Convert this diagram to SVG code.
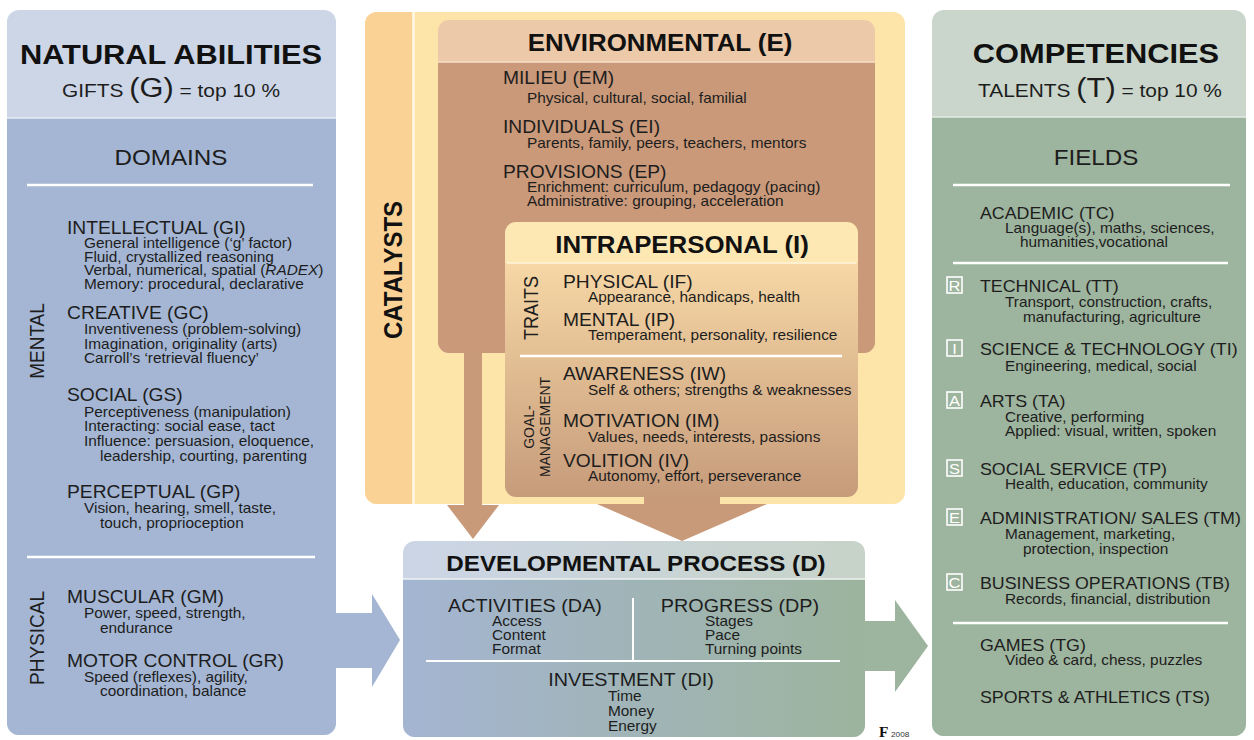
<svg xmlns="http://www.w3.org/2000/svg" width="1254" height="740" viewBox="0 0 1254 740">
<defs>
<linearGradient id="gIntra" x1="0" y1="0" x2="0" y2="1">
<stop offset="0" stop-color="#fde8b4"/><stop offset="0.148" stop-color="#fde8b4"/><stop offset="0.152" stop-color="#f6d7a5"/><stop offset="1" stop-color="#c69b7b"/>
</linearGradient>
<linearGradient id="gDevHead" x1="0" y1="0" x2="1" y2="0"><stop offset="0" stop-color="#ccd5e6"/><stop offset="1" stop-color="#c7d3c8"/></linearGradient>
<linearGradient id="gDevBody" x1="0" y1="0" x2="1" y2="0"><stop offset="0" stop-color="#a4b5d2"/><stop offset="1" stop-color="#9cb49d"/></linearGradient>
<style>
text{font-family:"Liberation Sans",Arial,Helvetica,sans-serif;fill:#1d1d1d;transform-box:fill-box;transform-origin:0 0;transform:scaleX(1.1)}
.m{text-anchor:middle;transform-origin:50% 0}
.v{text-anchor:middle;transform-origin:50% 50%;transform:scaleY(1.1)}
.t1{font-size:28px;font-weight:bold;fill:#111}
.t2{font-size:23.5px;font-weight:bold;fill:#111}
.t3{font-size:22px;font-weight:bold;fill:#111}
.sub{font-size:19px}
.big{font-size:28px}
.dom{font-size:22px}
.h{font-size:17.5px}
.hr{font-size:16.2px}
.hd{font-size:18px}
.s{font-size:14px}
.lab{font-size:19px}
.cat{font-size:24px;font-weight:bold;fill:#111}
.tr{font-size:18px}
.gm{font-size:14px}
.bx{fill:none;stroke:#fff;stroke-width:1.6}
.bl{font-size:15px;fill:#fff}
.wl{stroke:#fff;stroke-width:2.5}
.dl{stroke-width:1.5}
.logo{font-family:"Liberation Serif",serif;font-size:14px;font-weight:bold;fill:#111}
.yr{font-size:7.5px;fill:#333}
</style>
</defs>
<rect width="1254" height="740" fill="#fff"/>

<g id="natural-abilities">
<rect x="7" y="10" width="329" height="725" rx="12" fill="#ccd6e6"/>
<rect x="7" y="118" width="329" height="617" rx="12" fill="#a4b6d3"/>
<rect x="7" y="118" width="329" height="20" fill="#a4b6d3"/>
<line x1="7" y1="118" x2="336" y2="118" stroke="#e6ecf4" class="dl"/>
<text class="t1 m" x="171" y="64">NATURAL ABILITIES</text>
<text class="sub m" x="171" y="97">GIFTS <tspan class="big">(G)</tspan> = top 10 %</text>
<text class="dom m" x="171" y="165">DOMAINS</text>
<line class="wl" x1="27" y1="185" x2="313" y2="185"/>
<text class="h" x="67" y="234">INTELLECTUAL (GI)</text>
<text class="s" x="84" y="248">General intelligence (‘g’ factor)</text>
<text class="s" x="84" y="262">Fluid, crystallized reasoning</text>
<text class="s" x="84" y="275">Verbal, numerical, spatial (<tspan font-style="italic">RADEX</tspan>)</text>
<text class="s" x="84" y="289">Memory: procedural, declarative</text>
<text class="h" x="67" y="319">CREATIVE (GC)</text>
<text class="s" x="84" y="334">Inventiveness (problem-solving)</text>
<text class="s" x="84" y="349">Imagination, originality (arts)</text>
<text class="s" x="84" y="363">Carroll’s ‘retrieval fluency’</text>
<text class="h" x="67" y="401">SOCIAL (GS)</text>
<text class="s" x="84" y="417">Perceptiveness (manipulation)</text>
<text class="s" x="84" y="431">Interacting: social ease, tact</text>
<text class="s" x="84" y="446">Influence: persuasion, eloquence,</text>
<text class="s" x="100" y="461">leadership, courting, parenting</text>
<text class="h" x="67" y="498">PERCEPTUAL (GP)</text>
<text class="s" x="84" y="513">Vision, hearing, smell, taste,</text>
<text class="s" x="100" y="528">touch, proprioception</text>
<line class="wl" x1="27" y1="557" x2="315" y2="557"/>
<text class="h" x="67" y="603">MUSCULAR (GM)</text>
<text class="s" x="84" y="618">Power, speed, strength,</text>
<text class="s" x="100" y="633">endurance</text>
<text class="h" x="67" y="667">MOTOR CONTROL (GR)</text>
<text class="s" x="84" y="682">Speed (reflexes), agility,</text>
<text class="s" x="100" y="696">coordination, balance</text>
<g transform="translate(43,341) rotate(-90)"><text class="v lab" x="0" y="0">MENTAL</text></g>
<g transform="translate(43,638) rotate(-90)"><text class="v lab" x="0" y="0">PHYSICAL</text></g>
</g>

<g id="catalysts">
<rect x="365" y="12" width="540" height="492" rx="12" fill="#fde4a9"/>
<path d="M377,12 H412 V504 H377 A12,12 0 0 1 365,492 V24 A12,12 0 0 1 377,12 Z" fill="#fbd296"/>
<line x1="413.5" y1="12" x2="413.5" y2="504" stroke="#fff7e6" stroke-width="2.5"/>
<g transform="translate(401,270) rotate(-90)"><text class="v cat" x="0" y="0">CATALYSTS</text></g>
</g>

<g id="connectors">
<polygon points="464,340 482,340 482,505 499,505 473,539 447,505 464,505" fill="#c99a7a"/>
<polygon points="644,488 720,488 720,504 767,504 682,541 597,504 644,504" fill="#c89a7a"/>
<polygon points="336,613 372,613 372,594 400,640 372,687 372,668 336,668" fill="#a4b6d3"/>
<polygon points="865,621 895,621 895,600 928,646 895,692 895,671 865,671" fill="#9db49e"/>
</g>

<g id="environmental">
<rect x="438" y="20" width="437" height="333" rx="11" fill="#ecc9a8"/>
<rect x="438" y="62" width="437" height="291" rx="11" fill="#c9997a"/>
<rect x="438" y="62" width="437" height="16" fill="#c9997a"/>
<line x1="438" y1="62" x2="875" y2="62" stroke="#f6e0c8" class="dl"/>
<text class="t2 m" x="660" y="51">ENVIRONMENTAL (E)</text>
<text class="h" x="503" y="84">MILIEU (EM)</text>
<text class="s" x="527" y="103">Physical, cultural, social, familial</text>
<text class="h" x="503" y="133">INDIVIDUALS (EI)</text>
<text class="s" x="527" y="148">Parents, family, peers, teachers, mentors</text>
<text class="h" x="503" y="178">PROVISIONS (EP)</text>
<text class="s" x="527" y="192">Enrichment: curriculum, pedagogy (pacing)</text>
<text class="s" x="527" y="206">Administrative: grouping, acceleration</text>
</g>

<g id="intrapersonal">
<rect x="505" y="222" width="353" height="275" rx="11" fill="url(#gIntra)"/>
<line x1="507" y1="263" x2="856" y2="263" stroke="#fff4dc" class="dl"/>
<text class="t2 m" x="682" y="253">INTRAPERSONAL (I)</text>
<g transform="translate(537,308) rotate(-90)"><text class="v tr" x="0" y="0">TRAITS</text></g>
<text class="h" x="563" y="288">PHYSICAL (IF)</text>
<text class="s" x="588" y="302">Appearance, handicaps, health</text>
<text class="h" x="563" y="326">MENTAL (IP)</text>
<text class="s" x="588" y="340">Temperament, personality, resilience</text>
<line class="wl" x1="520" y1="356" x2="842" y2="356"/>
<g transform="translate(534,427) rotate(-90)"><text class="v gm" x="0" y="0">GOAL-</text></g>
<g transform="translate(550,427) rotate(-90)"><text class="v gm" x="0" y="0">MANAGEMENT</text></g>
<text class="h" x="563" y="380">AWARENESS (IW)</text>
<text class="s" x="588" y="395">Self &amp; others; strengths &amp; weaknesses</text>
<text class="h" x="563" y="427">MOTIVATION (IM)</text>
<text class="s" x="588" y="442">Values, needs, interests, passions</text>
<text class="h" x="563" y="467">VOLITION (IV)</text>
<text class="s" x="588" y="481">Autonomy, effort, perseverance</text>
</g>

<g id="developmental-process">
<rect x="403" y="541" width="462" height="196" rx="12" fill="url(#gDevHead)"/>
<rect x="403" y="579" width="462" height="158" rx="12" fill="url(#gDevBody)"/>
<rect x="403" y="579" width="462" height="16" fill="url(#gDevBody)"/>
<line x1="403" y1="579" x2="865" y2="579" stroke="#eef2f0" class="dl"/>
<text class="t3 m" x="636" y="571">DEVELOPMENTAL PROCESS (D)</text>
<text class="hd m" x="525" y="612">ACTIVITIES (DA)</text>
<text class="s" x="492" y="626">Access</text>
<text class="s" x="492" y="640">Content</text>
<text class="s" x="492" y="654">Format</text>
<text class="hd m" x="740" y="612">PROGRESS (DP)</text>
<text class="s" x="705" y="626">Stages</text>
<text class="s" x="705" y="640">Pace</text>
<text class="s" x="705" y="654">Turning points</text>
<line x1="633" y1="598" x2="633" y2="660" stroke="#fff" stroke-width="2"/>
<line x1="426" y1="661" x2="840" y2="661" stroke="#fff" stroke-width="2"/>
<text class="hd m" x="631" y="686">INVESTMENT (DI)</text>
<text class="s" x="608" y="701">Time</text>
<text class="s" x="608" y="716">Money</text>
<text class="s" x="608" y="731">Energy</text>
<text class="logo" x="879" y="737">F</text>
<text class="yr" x="891" y="737">2008</text>
</g>

<g id="competencies">
<rect x="932" y="10" width="314" height="726" rx="12" fill="#cad6cb"/>
<rect x="932" y="117" width="314" height="619" rx="12" fill="#9db49e"/>
<rect x="932" y="117" width="314" height="20" fill="#9db49e"/>
<line x1="932" y1="117" x2="1246" y2="117" stroke="#e4ebe4" class="dl"/>
<text class="t1 m" x="1096" y="63">COMPETENCIES</text>
<text class="sub m" x="1100" y="97">TALENTS <tspan class="big">(T)</tspan> = top 10 %</text>
<text class="dom m" x="1096" y="165">FIELDS</text>
<line class="wl" x1="953" y1="185" x2="1230" y2="185"/>
<text class="hr" x="980" y="219">ACADEMIC (TC)</text>
<text class="s" x="1005" y="233">Language(s), maths, sciences,</text>
<text class="s" x="1020" y="247">humanities,vocational</text>
<line class="wl" x1="953" y1="263" x2="1228" y2="263"/>
<rect class="bx" x="947" y="277" width="15" height="16"/><text class="bl m" x="954.5" y="291">R</text>
<text class="hr" x="980" y="292">TECHNICAL (TT)</text>
<text class="s" x="1005" y="307">Transport, construction, crafts,</text>
<text class="s" x="1023" y="322">manufacturing, agriculture</text>
<rect class="bx" x="947" y="340" width="15" height="16"/><text class="bl m" x="954.5" y="354">I</text>
<text class="hr" x="980" y="355">SCIENCE &amp; TECHNOLOGY (TI)</text>
<text class="s" x="1005" y="371">Engineering, medical, social</text>
<rect class="bx" x="947" y="392" width="15" height="16"/><text class="bl m" x="954.5" y="406">A</text>
<text class="hr" x="980" y="407">ARTS (TA)</text>
<text class="s" x="1005" y="422">Creative, performing</text>
<text class="s" x="1005" y="436">Applied: visual, written, spoken</text>
<rect class="bx" x="947" y="460" width="15" height="16"/><text class="bl m" x="954.5" y="474">S</text>
<text class="hr" x="980" y="475">SOCIAL SERVICE (TP)</text>
<text class="s" x="1005" y="489">Health, education, community</text>
<rect class="bx" x="947" y="509" width="15" height="16"/><text class="bl m" x="954.5" y="523">E</text>
<text class="hr" x="980" y="524">ADMINISTRATION/ SALES (TM)</text>
<text class="s" x="1005" y="539">Management, marketing,</text>
<text class="s" x="1023" y="554">protection, inspection</text>
<rect class="bx" x="947" y="574" width="15" height="16"/><text class="bl m" x="954.5" y="588">C</text>
<text class="hr" x="980" y="589">BUSINESS OPERATIONS (TB)</text>
<text class="s" x="1005" y="604">Records, financial, distribution</text>
<line class="wl" x1="953" y1="623" x2="1228" y2="623"/>
<text class="hr" x="980" y="651">GAMES (TG)</text>
<text class="s" x="1005" y="665">Video &amp; card, chess, puzzles</text>
<text class="hr" x="980" y="703">SPORTS &amp; ATHLETICS (TS)</text>
</g>
</svg>
